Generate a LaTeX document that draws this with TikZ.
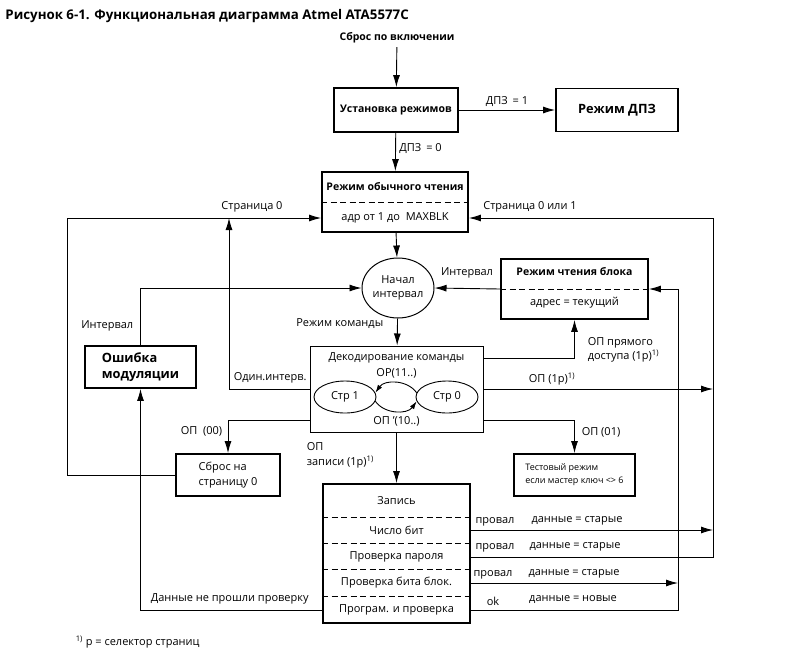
\documentclass[tikz,border=0pt]{standalone}
\usepackage{fontspec}
\setmainfont{Open Sans}
\usetikzlibrary{arrows.meta,shapes.geometric}

\begin{document}
\begin{tikzpicture}[x=1pt,y=-1pt,line width=0.9pt,>={Latex[length=12pt,width=7pt]},
	font=\fontsize{11}{14}\selectfont,
	blok/.style={draw,line width=1.8pt,inner sep=0pt,align=left},
	tonk/.style={draw,line width=1pt,inner sep=0pt},
	razd/.style={dash pattern=on 6pt off 3.5pt,line width=0.9pt},
	zhir/.style={font=\fontsize{10.5}{13}\selectfont\bfseries},
	krup/.style={font=\fontsize{12.8}{16}\selectfont\bfseries}]
	\useasboundingbox (0,0) rectangle (785,657);
	\node[anchor=west,inner sep=0pt] (titul) at (5,16) {\fontsize{13.3}{16}\selectfont\bfseries Рисунок 6-1. Функциональная диаграмма Atmel ATA5577C};
	\node[zhir] (vkl) at (397,38) {Сброс по включении};
	\node[blok,zhir,minimum width=124pt,minimum height=44pt] (ust) at (396,110) {Установка режимов};
	\node[blok,krup,minimum width=122pt,minimum height=43pt] (dpz) at (617,110) {Режим ДПЗ};
	\node[blok,minimum width=146pt,minimum height=60pt] (obch) at (395,202) {};
	\node[zhir] (obch1) at (395,187) {Режим обычного чтения};
	\node (obch2) at (395,218) {адр от 1 до\ \ MAXBLK};
	\draw[razd] (obch.west) -- (obch.east);
	\node[draw,ellipse,line width=1pt,minimum width=72pt,minimum height=60pt,inner sep=0pt,align=center] (nach) at (398,288) {Начал\\интервал};
	\node[blok,minimum width=147pt,minimum height=60pt] (blk) at (574.5,289) {};
	\node[zhir] (blk1) at (574.5,272) {Режим чтения блока};
	\node (blk2) at (574.5,303) {адрес = текущий};
	\draw[razd] (blk.west) -- (blk.east);
	\node[tonk,minimum width=173pt,minimum height=86pt] (dek) at (396.5,389) {};
	\node (dek1) at (396.5,358) {Декодирование команды};
	\node (dek2) at (396.5,373) {OP(11..)};
	\node (dek3) at (396.5,421) {ОП '(10..)};
	\node[draw,ellipse,line width=0.9pt,minimum width=62pt,minimum height=32pt,inner sep=0pt] (str1) at (345,397) {Стр 1};
	\node[draw,ellipse,line width=0.9pt,minimum width=62pt,minimum height=32pt,inner sep=0pt] (str0) at (447,397) {Стр 0};
	\draw[-{Latex[length=8pt,width=5pt]}] (str0.172) to[bend right=55] (str1.8);
	\draw[-{Latex[length=8pt,width=5pt]}] (str1.-8) to[bend right=55] (str0.188);
	\node[blok,krup,minimum width=111pt,minimum height=42pt] (osh) at (140.5,367) {Ошибка\\модуляции};
	\node[blok,minimum width=104pt,minimum height=42pt,font=\fontsize{11}{15}\selectfont] (sbr0) at (228,475) {Сброс на\\страницу 0};
	\node[blok,minimum width=121pt,minimum height=42pt,font=\fontsize{9}{13}\selectfont] (test) at (574.5,475) {Тестовый режим\\если мастер ключ <> 6};
	\node[blok,minimum width=147pt,minimum height=139pt] (zap) at (396.5,553.5) {};
	\node (zap1) at (396.5,501) {Запись};
	\node (zap2) at (396.5,530) {Число бит};
	\node (zap3) at (396.5,557) {Проверка пароля};
	\node (zap4) at (396.5,583) {Проверка бита блок.};
	\node (zap5) at (396.5,610) {Програм. и проверка};
	\foreach \d in {34,60,86,113}
		\draw[razd] ([yshift=-\d pt]zap.north west) -- ([yshift=-\d pt]zap.north east);
	\draw[->] (vkl) -- (ust);
	\draw[->] (ust) -- node[above]{ДПЗ\hspace{5pt}= 1} (dpz);
	\draw[->] (ust) -- node[right,pos=0.4]{ДПЗ\hspace{5pt}= 0} (obch);
	\draw[->] (obch) -- (nach);
	\draw[->] (nach) -- (dek);
	\node[anchor=east] (lkom) at (387,324) {Режим команды};
	\draw[->] (blk.west) -- (nach.east);
	\node (lint2) at (467,273) {Интервал};
	\draw[->] (dek) -- (zap);
	\node[anchor=west,align=left,font=\fontsize{11}{15}\selectfont] (lzap) at (303,455) {ОП\\записи (1p)\textsuperscript{1)}};
	\coordinate (lv) at (67,218);
	\draw[->] (sbr0.west) -| (lv) -- (obch.west |- obch2);
	\node (lstr0) at (252,207) {Страница 0};
	\coordinate (odin) at (229,218);
	\draw[->] (dek.west) -| (odin);
	\node[anchor=west] (lodin) at (230,378) {Один.интерв.};
	\draw[->] ([yshift=-31pt]dek.west) -| (sbr0.north);
	\node[anchor=east] (l00) at (226,431) {ОП\ \ (00)};
	\draw[->] (osh.north) |- (nach.west);
	\node[anchor=east] (lint1) at (137,326) {Интервал};
	\draw[->] (zap5 -| zap.west) -| (osh.south);
	\node[anchor=west] (lne) at (147,599) {Данные не прошли проверку};
	\coordinate (pv) at (713,218);
	\draw[->] (pv) -- (obch.east |- obch2);
	\node (lstr01) at (530,207) {Страница 0 или 1};
	\draw (zap3 -| zap.east) -| (pv);
	\draw[->] (zap2 -| zap.east) -- (zap2 -| pv);
	\draw[->] (dek.east) -- (dek.east -| pv);
	\node (l1p) at (552,379) {ОП (1p)\textsuperscript{1)}};
	\coordinate (pvi) at (678,289);
	\draw[->] (pvi) -- (blk.east);
	\draw (zap5 -| zap.east) -| (pvi);
	\draw[->] (zap4 -| zap.east) -- (zap4 -| pvi);
	\draw[->] ([yshift=31pt]dek.east) -| (blk.south);
	\node[anchor=west,align=left] (lpr) at (584,350) {ОП прямого\\доступа (1p)\textsuperscript{1)}};
	\draw[->] ([yshift=-31pt]dek.east) -| (test.north);
	\node[anchor=west] (l01) at (578,432) {ОП (01)};
	\node (pr2) at (495,522) {провал};
	\node (st2) at (577,521) {данные = старые};
	\node (pr3) at (495,548) {провал};
	\node (st3) at (575,547) {данные = старые};
	\node (pr4) at (493,575) {провал};
	\node (st4) at (574,574) {данные = старые};
	\node (ok5) at (493,601) {ok};
	\node (nv5) at (573,600) {данные = новые};
	\node[anchor=west] (snoska) at (72,642) {\textsuperscript{1)} p = селектор страниц};
\end{tikzpicture}
\end{document}
